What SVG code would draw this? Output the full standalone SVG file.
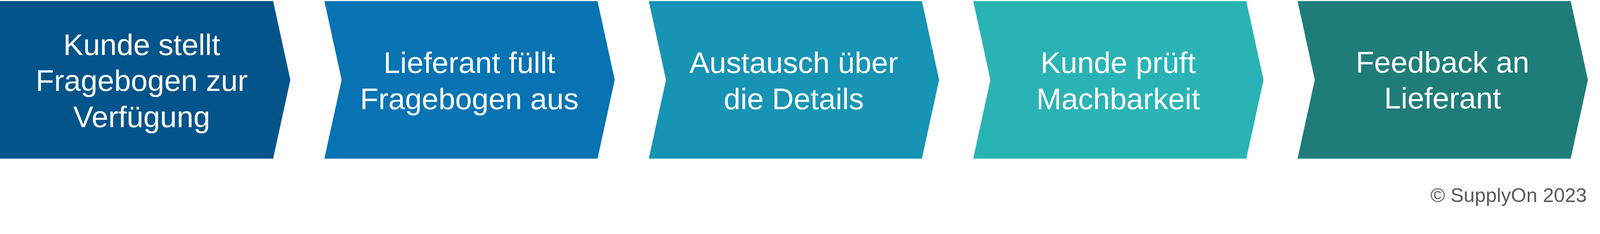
<svg xmlns="http://www.w3.org/2000/svg" width="4370" height="600" viewBox="0 0 4370 600" preserveAspectRatio="xMinYMin meet">
<style>
svg{width:100vw;height:100vh}
.lbl{font-family:"Liberation Sans",Arial,sans-serif;font-size:82px;fill:#FFFFFF;text-anchor:middle}
.copy{font-family:"Liberation Sans",Arial,sans-serif;font-size:54px;fill:#595959;text-anchor:end}
</style>
<rect width="4370" height="600" fill="#FFFFFF"/>
<g id="connectors"></g>
<g id="step1">
<polygon points="0,3 746,3 793,218.5 746,434 0,434" fill="#03548A"/>
<text class="lbl" x="387" y="150">Kunde stellt</text>
<text class="lbl" x="387" y="249">Fragebogen zur</text>
<text class="lbl" x="387" y="347.5">Verfügung</text>
</g>
<g id="step2">
<polygon points="886,3 1632,3 1679,218.5 1632,434 886,434 933,218.5" fill="#0773B3"/>
<text class="lbl" x="1282" y="199.5">Lieferant füllt</text>
<text class="lbl" x="1282" y="298.5">Fragebogen aus</text>
</g>
<g id="step3">
<polygon points="1772,3 2518,3 2565,218.5 2518,434 1772,434 1819,218.5" fill="#1793B4"/>
<text class="lbl" x="2168" y="199.5">Austausch über</text>
<text class="lbl" x="2168" y="298.5">die Details</text>
</g>
<g id="step4">
<polygon points="2658,3 3404,3 3451,218.5 3404,434 2658,434 2705,218.5" fill="#2AB3B5"/>
<text class="lbl" x="3054" y="199.5">Kunde prüft</text>
<text class="lbl" x="3054" y="298.5">Machbarkeit</text>
</g>
<g id="step5">
<polygon points="3544,3 4290,3 4337,218.5 4290,434 3544,434 3591,218.5" fill="#1F7D79"/>
<text class="lbl" x="3940" y="198">Feedback an</text>
<text class="lbl" x="3940" y="297">Lieferant</text>
</g>
<text class="copy" x="4334" y="553">© SupplyOn 2023</text>
</svg>
